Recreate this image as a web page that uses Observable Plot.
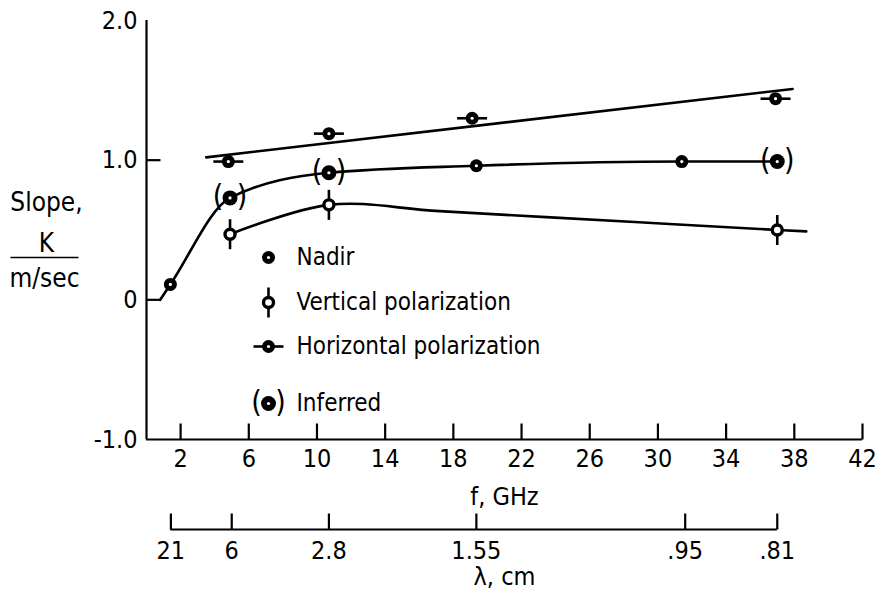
<!DOCTYPE html>
<html>
<head>
<meta charset="utf-8">
<script src="https://cdn.jsdelivr.net/npm/d3@7"></script>
<script src="https://cdn.jsdelivr.net/npm/@observablehq/plot@0.6"></script>
<style>
  html, body { margin: 0; padding: 0; background: #fff; }
  #chart svg { display: block; }
</style>
</head>
<body>
<div id="chart"></div>
<script>
// ---------------- data ----------------
const freqTicks = [2, 6, 10, 14, 18, 22, 26, 30, 34, 38, 42];
const slopeTicks = [2.0, 1.0, 0, -1.0];
const slopeTickLabels = ["2.0", "1.0", "0", "-1.0"];
const lambdaLabels = ["21", "6", "2.8", "1.55", ".95", ".81"];
const lambdaFreq = [1.43, 5.0, 10.7, 19.35, 31.6, 37.0];

// observations
const nadirF = [1.4, 19.35, 31.4];
const nadirS = [0.11, 0.96, 0.99];
const inferredF = [4.9, 10.7, 37.0];
const inferredS = [0.73, 0.91, 0.99];
const vertF = [4.9, 10.7, 37.0];
const vertS = [0.47, 0.68, 0.50];
const horizF = [4.8, 10.7, 19.1, 36.9];
const horizS = [0.99, 1.19, 1.30, 1.44];

// fitted curves
const horizFitF = [3.5, 37.9];
const horizFitS = [1.02, 1.51];
const nadirFitF = [0.8, 1.4, 4.9, 10.7, 19.35, 31.4, 37.0];
const nadirFitS = [0.0, 0.11, 0.73, 0.91, 0.96, 0.99, 0.99];
const vertFitF = [4.9, 10.7, 17.2, 28.9, 37.0, 38.7];
const vertFitS = [0.47, 0.68, 0.635, 0.555, 0.50, 0.49];

const legendLabels = ["Nadir", "Vertical polarization", "Horizontal polarization", "Inferred"];
const legendKinds = ["nadir", "vertical", "horizontal", "inferred"];

// ---------------- helpers ----------------
const zip = (a, b) => a.map((v, i) => ({f: v, s: b[i]}));
const FONT = "'Liberation Sans Narrow', 'DejaVu Sans Condensed', 'Arial Narrow', sans-serif";

const hbar = {draw(ctx) { ctx.moveTo(-15, 0); ctx.lineTo(15, 0); }};
const vbar = {draw(ctx) { ctx.moveTo(0, -15); ctx.lineTo(0, 15); }};
const upTick = {draw(ctx) { ctx.moveTo(0, 0); ctx.lineTo(0, -16); }};
const rightTick = {draw(ctx) { ctx.moveTo(0, 0); ctx.lineTo(14, 0); }};
const fracBar = {draw(ctx) { ctx.moveTo(-34, 0); ctx.lineTo(34, 0); }};

const nadir = zip(nadirF, nadirS);
const inferred = zip(inferredF, inferredS);
const vert = zip(vertF, vertS);
const horiz = zip(horizF, horizS);
const lambdaTicks = lambdaFreq.map((f, i) => ({f, label: lambdaLabels[i]}));

const lineStyle = {x: "f", y: "s", stroke: "black", strokeWidth: 2.6, curve: "monotone-x"};

function markerMarks(kind, data, pos) {
  const m = [];
  const bx = pos.dx || 0, by = pos.dy || 0;
  if (kind === "horizontal") m.push(Plot.dot(data, {...pos, symbol: hbar, stroke: "black", strokeWidth: 2.6, fill: "none"}));
  if (kind === "vertical") m.push(Plot.dot(data, {...pos, symbol: vbar, stroke: "black", strokeWidth: 2.6, fill: "none"}));
  if (kind === "vertical") {
    m.push(Plot.dot(data, {...pos, r: 5, fill: "white", stroke: "black", strokeWidth: 3.4}));
  } else {
    m.push(Plot.dot(data, {...pos, r: kind === "inferred" ? 7.5 : 6.5, fill: "black"}));
    m.push(Plot.dot(data, {...pos, r: 1.6, fill: "white"}));
  }
  if (kind === "inferred") {
    m.push(Plot.text(data, {...pos, text: () => "(", dx: bx - 12, dy: by - 1, textAnchor: "middle", lineAnchor: "middle", fontSize: 30, fontFamily: FONT}));
    m.push(Plot.text(data, {...pos, text: () => ")", dx: bx + 12, dy: by - 1, textAnchor: "middle", lineAnchor: "middle", fontSize: 30, fontFamily: FONT}));
  }
  return m;
}

// layout of the legend / y label (pixel offsets from the frame's top-left)
const legendRowDy = [237, 282, 326, 383];
const legendSymDx = 122, legendTextDx = 150;

const legendMarks = legendKinds.flatMap((k, i) => {
  const pos = {frameAnchor: "top-left", dx: legendSymDx, dy: legendRowDy[i]};
  return [
    ...markerMarks(k, [0], pos),
    Plot.text([legendLabels[i]], {frameAnchor: "top-left", dx: legendTextDx, dy: legendRowDy[i],
      text: d => d, textAnchor: "start", lineAnchor: "middle", fontSize: 24, fontFamily: FONT, letterSpacing: "1.5px"})
  ];
});

const frameText = (s, dx, dy) => Plot.text([s], {frameAnchor: "top-left", dx, dy, text: d => d,
  textAnchor: "middle", lineAnchor: "middle", fontSize: 26, fontFamily: FONT, letterSpacing: "0.5px"});

const plot = Plot.plot({
  width: 877,
  height: 599,
  marginLeft: 146,
  marginRight: 15,
  marginTop: 20,
  marginBottom: 160,
  style: {fontFamily: FONT, background: "white", color: "black", overflow: "visible"},
  x: {domain: [0, 42], axis: null},
  y: {domain: [-1, 2], axis: null},
  marks: [
    // frame axes
    Plot.ruleX([0], {y1: -1, y2: 2, stroke: "black", strokeWidth: 2.2}),
    Plot.ruleY([-1], {x1: 0, x2: 42, stroke: "black", strokeWidth: 2.2}),
    Plot.dot(freqTicks, {x: d => d, y: -1, symbol: upTick, stroke: "black", strokeWidth: 2.2}),
    Plot.text(freqTicks, {x: d => d, y: -1, dy: 19, text: d => String(d), fontSize: 25, fontFamily: FONT}),
    Plot.dot([1, 0], {x: 0, y: d => d, symbol: rightTick, stroke: "black", strokeWidth: 2.2}),
    Plot.text(slopeTicks, {x: 0, y: d => d, dx: -9, text: (d, i) => slopeTickLabels[i], textAnchor: "end", fontSize: 25, fontFamily: FONT}),
    Plot.text(["f, GHz"], {x: 21, y: -1, dy: 57, text: d => d, fontSize: 25, fontFamily: FONT, letterSpacing: "0.5px"}),

    // wavelength axis
    Plot.ruleY([-1], {x1: lambdaFreq[0], x2: lambdaFreq[lambdaFreq.length - 1], dy: 90, stroke: "black", strokeWidth: 2.2}),
    Plot.dot(lambdaTicks, {x: "f", y: -1, dy: 90, symbol: upTick, stroke: "black", strokeWidth: 2.2}),
    Plot.text(lambdaTicks, {x: "f", y: -1, dy: 111, text: "label", fontSize: 25, fontFamily: FONT}),
    Plot.text(["λ, cm"], {x: 21, y: -1, dy: 137, text: d => d, fontSize: 25, fontFamily: FONT, letterSpacing: "0.5px"}),

    // y label
    frameText("Slope,", -100, 182),
    frameText("K", -100, 223),
    Plot.dot([0], {frameAnchor: "top-left", dx: -102, dy: 237, symbol: fracBar, stroke: "black", strokeWidth: 1.6}),
    frameText("m/sec", -102, 258),

    // fitted curves
    Plot.line(zip(horizFitF, horizFitS), lineStyle),
    Plot.line(zip(nadirFitF, nadirFitS), lineStyle),
    Plot.line(zip(vertFitF, vertFitS), {...lineStyle, curve: "catmull-rom"}),

    // observations
    ...markerMarks("horizontal", horiz, {x: "f", y: "s"}),
    ...markerMarks("vertical", vert, {x: "f", y: "s"}),
    ...markerMarks("nadir", nadir, {x: "f", y: "s"}),
    ...markerMarks("inferred", inferred, {x: "f", y: "s"}),

    // legend
    ...legendMarks
  ]
});

document.getElementById("chart").appendChild(plot);
</script>
</body>
</html>
